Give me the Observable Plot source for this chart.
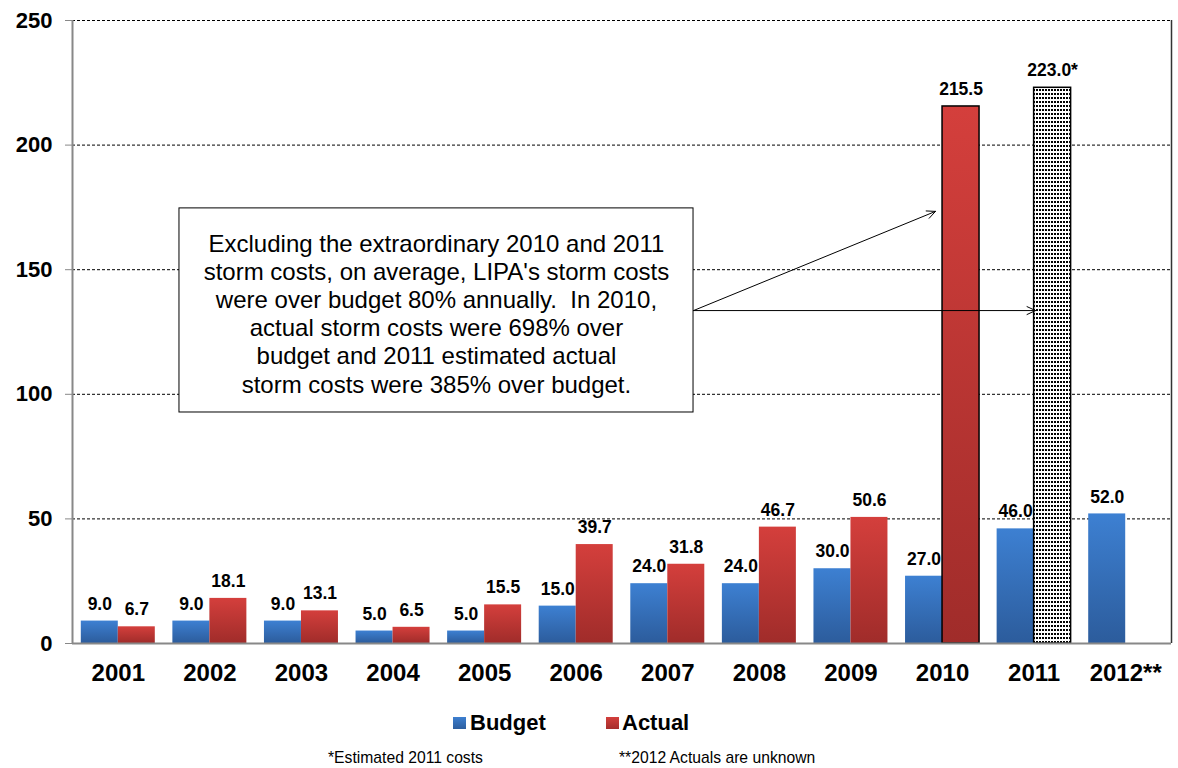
<!DOCTYPE html>
<html>
<head>
<meta charset="utf-8">
<script src="https://cdn.jsdelivr.net/npm/d3@7"></script>
<script src="https://cdn.jsdelivr.net/npm/@observablehq/plot@0.6"></script>
<style>
  body { margin: 0; background: #fff; font-family: "Liberation Sans", Arial, sans-serif; }
  #wrap { width: 1178px; }
  #below { position: relative; width: 1178px; height: 68px; }
  .sw { position: absolute; width: 13px; height: 12px; }
  .lg { position: absolute; font-weight: bold; font-size: 22px; line-height: 22px; color: #000; }
  .fn { position: absolute; font-size: 15.7px; line-height: 16px; color: #000; }
</style>
</head>
<body>
<div id="wrap">
  <div id="chart"></div>
  <div id="below">
    <div class="sw" style="left:453px; top:17px; background: linear-gradient(#3d7fd0, #2d5e9e);"></div>
    <div class="lg" style="left:470px; top:12px;">Budget</div>
    <div class="sw" style="left:606px; top:17px; background: linear-gradient(#d33f3c, #a52e2c);"></div>
    <div class="lg" style="left:622px; top:12px;">Actual</div>
    <div class="fn" style="left:328px; top:50px;">*Estimated 2011 costs</div>
    <div class="fn" style="left:619px; top:50px;">**2012 Actuals are unknown</div>
  </div>
</div>
<script>
// ---- data ----
const years = ["2001","2002","2003","2004","2005","2006","2007","2008","2009","2010","2011","2012**"];
const budget = [9.0, 9.0, 9.0, 5.0, 5.0, 15.0, 24.0, 24.0, 30.0, 27.0, 46.0, 52.0];
const actual = [6.7, 18.1, 13.1, 6.5, 15.5, 39.7, 31.8, 46.7, 50.6, 215.5, 223.0, null];
const actualNote = ["", "", "", "", "", "", "", "", "", "", "*", ""];
const yTicks = [0, 50, 100, 150, 200, 250];
const annotationText = "Excluding the extraordinary 2010 and 2011\nstorm costs, on average, LIPA's storm costs\nwere over budget 80% annually.  In 2010,\nactual storm costs were 698% over\nbudget and 2011 estimated actual\nstorm costs were 385% over budget.";

// ---- styling / layout constants ----
const halfW = 0.404;              // bar width in category units
const outlineYears = ["2010"];    // red bar with black outline
const dottedYears = ["2011"];     // estimated, dotted fill
const box = {x1: 1.168, x2: 6.781, y1: 174.6, y2: 92.7, tx: 3.974, ty: 132.6};
const arrows = [
  {x1: 6.781, y1: 133.6, x2: 9.423, y2: 173.4},
  {x1: 6.781, y1: 133.6, x2: 10.515, y2: 133.6}
];

const rows = years.map((year, i) => ({i, year, budget: budget[i], actual: actual[i], note: actualNote[i]}));
const actRows = rows.filter(d => d.actual != null);

const W = 1178, H = 700;
const chart = Plot.plot({
  width: W,
  height: H,
  marginTop: 20,
  marginBottom: 57,
  marginLeft: 72,
  marginRight: 7,
  style: {fontFamily: "'Liberation Sans', Arial, sans-serif", fontWeight: "bold", color: "#000", background: "#fff"},
  x: {domain: [0, years.length], axis: null},
  y: {domain: [0, 250], axis: null},
  marks: [
    Plot.ruleY(yTicks.filter(d => d > 0), {stroke: "#000", strokeWidth: 1, strokeDasharray: "3,2"}),
    Plot.rect([box], {x1: "x1", x2: "x2", y1: "y1", y2: "y2", fill: "#fff", stroke: "#000", strokeWidth: 1}),
    Plot.text([box], {x: "tx", y: "ty", text: () => annotationText, fontSize: 24, fontWeight: "normal", lineHeight: 1.175, textAnchor: "middle", fill: "#000"}),
    Plot.rectY(rows, {x1: d => d.i + 0.5 - halfW, x2: d => d.i + 0.5, y: "budget", fill: "url(#gBlue)", ariaLabel: "shadowed"}),
    Plot.rectY(actRows.filter(d => !outlineYears.includes(d.year) && !dottedYears.includes(d.year)),
      {x1: d => d.i + 0.5, x2: d => d.i + 0.5 + halfW, y: "actual", fill: "url(#gRed)", ariaLabel: "shadowed"}),
    Plot.rectY(actRows.filter(d => outlineYears.includes(d.year)),
      {x1: d => d.i + 0.5, x2: d => d.i + 0.5 + halfW, y: "actual", fill: "url(#gRed)", stroke: "#000", strokeWidth: 1.5, ariaLabel: "shadowed"}),
    Plot.rectY(actRows.filter(d => dottedYears.includes(d.year)),
      {x1: d => d.i + 0.5, x2: d => d.i + 0.5 + halfW, y: "actual", fill: "url(#dots)", stroke: "#000", strokeWidth: 1.5, ariaLabel: "shadowed"}),
    Plot.arrow(arrows, {x1: "x1", y1: "y1", x2: "x2", y2: "y2", stroke: "#000", strokeWidth: 1, headLength: 14, headAngle: 50}),
    Plot.ruleX([0], {stroke: "#888", strokeWidth: 2}),
    Plot.ruleX([years.length], {stroke: "#333", strokeWidth: 1.5}),
    Plot.ruleY([0], {stroke: "#888", strokeWidth: 2}),
    Plot.text(rows, {x: d => d.i + 0.5 - halfW / 2, y: "budget", text: d => d.budget.toFixed(1), dy: -17, fontSize: 17.5, fontWeight: "bold", fill: "#000"}),
    Plot.text(actRows, {x: d => d.i + 0.5 + halfW / 2, y: "actual", text: d => d.actual.toFixed(1) + d.note, dy: -17, fontSize: 17.5, fontWeight: "bold", fill: "#000"}),
    Plot.axisY(yTicks, {tickSize: 7, tickPadding: 13, fontSize: 22, fontWeight: "bold", stroke: "#888", fill: "#000", tickFormat: d => String(d)}),
    Plot.axisX(years.map((d, i) => i + 0.5), {tickSize: 0, tickPadding: 20, fontSize: 24, fontWeight: "bold", fill: "#000", tickFormat: (d, i) => years[i]})
  ]
});

// defs: gradients, dot pattern, shadow
const NS = "http://www.w3.org/2000/svg";
const defs = document.createElementNS(NS, "defs");
defs.innerHTML = `
  <linearGradient id="gBlue" x1="0" y1="0" x2="0" y2="1">
    <stop offset="0" stop-color="#3d80d2"/><stop offset="1" stop-color="#2c5c9c"/>
  </linearGradient>
  <linearGradient id="gRed" x1="0" y1="0" x2="0" y2="1">
    <stop offset="0" stop-color="#d43f3c"/><stop offset="1" stop-color="#a02c2a"/>
  </linearGradient>
  <pattern id="dots" patternUnits="userSpaceOnUse" width="3" height="4">
    <rect width="3" height="4" fill="#fff"/>
    <rect x="1" y="1" width="2" height="2" fill="#000"/>
  </pattern>
  <filter id="shadow" x="-20%" y="-5%" width="150%" height="115%">
    <feDropShadow dx="2" dy="1" stdDeviation="1.5" flood-color="#000" flood-opacity="0.3"/>
  </filter>`;
chart.insertBefore(defs, chart.firstChild);
chart.querySelectorAll('[aria-label="shadowed"]').forEach(g => g.setAttribute("filter", "url(#shadow)"));
chart.style.display = "block";
document.getElementById("chart").appendChild(chart);
</script>
</body>
</html>
